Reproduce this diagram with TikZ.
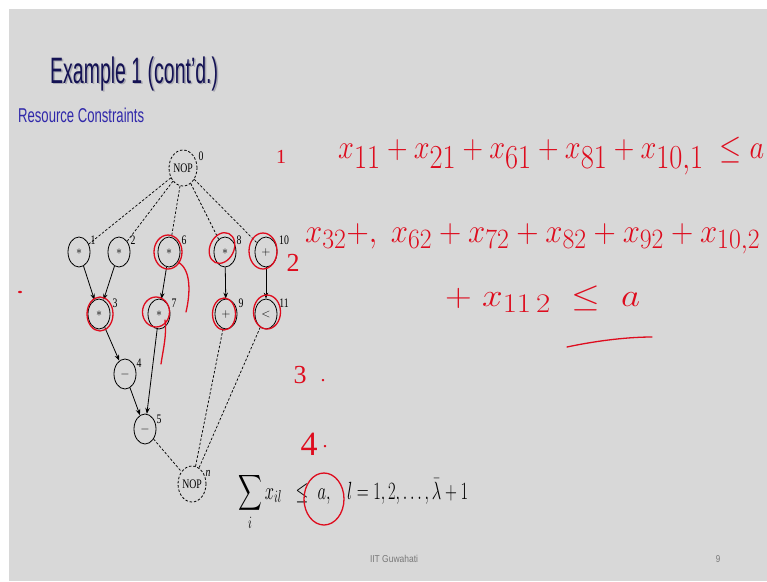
\documentclass[tikz,border=0pt]{standalone}
\usepackage{amsmath}
\usepackage{fontspec}
\usepackage{graphicx}
\usetikzlibrary{shapes.geometric,arrows.meta}
\setmainfont{Liberation Serif}
\newfontfamily\sansf{Liberation Sans}
\definecolor{bg}{RGB}{216,216,216}
\definecolor{titlec}{RGB}{20,18,84}
\definecolor{shadowc}{RGB}{170,170,178}
\definecolor{subc}{RGB}{48,40,170}
\definecolor{pen}{RGB}{222,12,30}
\definecolor{foot}{RGB}{120,120,120}
\newcommand{\fitw}[2]{\resizebox{#1}{\height}{#2}}
\newcommand{\fitwh}[3]{\resizebox{#1}{#2\height}{#3}}
\newcommand{\nsq}[1]{\scalebox{0.75}[1]{#1}}
\newcommand{\titletext}{\fitwh{168pt}{1.05}{\sansf\fontsize{35}{35}\selectfont Example 1 (cont’d.)}}
\tikzset{
  opnode/.style={ellipse, draw=black, line width=0.8pt, minimum width=22pt, minimum height=30pt, inner sep=0pt, font=\fontsize{12}{12}\selectfont},
  nopnode/.style={ellipse, draw=black, dashed, dash pattern=on 2.5pt off 1.8pt, line width=0.8pt, minimum width=28pt, minimum height=36pt, inner sep=0pt, font=\fontsize{13}{13}\selectfont},
  numlbl/.style={inner sep=0pt, font=\fontsize{13}{13}\selectfont},
  arr/.style={line width=0.8pt, -{Stealth[length=6pt,width=4.5pt]}},
  dsh/.style={line width=0.7pt, dash pattern=on 2.5pt off 1.8pt},
  penline/.style={draw=pen, line width=1.3pt, line cap=round, line join=round},
  pentext/.style={text=pen, inner sep=0pt},
}
\begin{document}
\begin{tikzpicture}[x=1pt,y=-1pt]
\useasboundingbox (0,0) rectangle (767,581);
\fill[white] (0,0) rectangle (767,581);
\fill[bg] (9,9) rectangle (767,581);

% titles
\node[anchor=base west, inner sep=0pt, text=shadowc] (titleshadow) at (51.5,84.5) {\titletext};
\node[anchor=base west, inner sep=0pt, text=titlec] (title) at (50,83) {\titletext};
\node[anchor=base west, inner sep=0pt, text=subc] (sub) at (18,122)
  {\fitw{126pt}{\sansf\fontsize{20}{20}\selectfont Resource Constraints}};

% graph nodes
\node[nopnode] (n0) at (183,168) {\nsq{NOP}};
\node[opnode] (n1) at (79,252) {$\ast$};
\node[opnode] (n2) at (119,252) {$\ast$};
\node[opnode] (n6) at (169,252) {$\ast$};
\node[opnode] (n8) at (225,252) {$\ast$};
\node[opnode] (n10) at (266,252) {$+$};
\node[opnode] (n3) at (99,314) {$\ast$};
\node[opnode] (n7) at (159,314) {$\ast$};
\node[opnode] (n9) at (226,314) {$+$};
\node[opnode] (n11) at (266,314) {$<$};
\node[opnode] (n4) at (125,374) {$-$};
\node[opnode] (n5) at (145,429) {$-$};
\node[nopnode] (nn) at (192,484) {\nsq{NOP}};

% number labels
\node[numlbl] (l0) at (201,156) {\nsq{0}};
\node[numlbl] (l1) at (93,240) {\nsq{1}};
\node[numlbl] (l2) at (133,240) {\nsq{2}};
\node[numlbl] (l6) at (184,240) {\nsq{6}};
\node[numlbl] (l8) at (239,240) {\nsq{8}};
\node[numlbl] (l10) at (284,240) {\nsq{10}};
\node[numlbl] (l3) at (115,303) {\nsq{3}};
\node[numlbl] (l7) at (174,303) {\nsq{7}};
\node[numlbl] (l9) at (241,303) {\nsq{9}};
\node[numlbl] (l11) at (284,303) {\nsq{11}};
\node[numlbl] (l4) at (139,363) {\nsq{4}};
\node[numlbl] (l5) at (159,419) {\nsq{5}};
\node[numlbl] (ln) at (208,473) {\nsq{\itshape n}};

% edges
\foreach \t in {n1,n2,n6,n8,n10} \draw[dsh] (n0) -- (\t);
\draw[arr] (n1) -- (n3);
\draw[arr] (n2) -- (n3);
\draw[arr] (n6) -- (n7);
\draw[arr] (n8) -- (n9);
\draw[arr] (n10) -- (n11);
\draw[arr] (n3) -- (n4);
\draw[arr] (n4) -- (n5);
\draw[arr] (n7) -- (n5);
\draw[dsh] (n5) -- (nn);
\draw[dsh] (n9) -- (nn);
\draw[dsh] (n11) -- (nn);

% formula
\node[anchor=base west, inner sep=0pt] (formula) at (238,499)
  {\fitw{230pt}{\fontsize{23}{23}\selectfont $\displaystyle\sum_i x_{il}\;\;\le\; a,\;\;\; l=1,2,\ldots,\bar\lambda+1$}};

% footer
\node[inner sep=0pt, text=foot] (footl) at (394,559) {\fitw{48pt}{\sansf\fontsize{10}{10}\selectfont IIT Guwahati}};
\node[inner sep=0pt, text=foot] (footr) at (718,559) {\scalebox{0.8}[1]{\sansf\fontsize{10}{10}\selectfont 9}};

% red annotations: circles on nodes
\draw[penline] (100,314) ellipse [x radius=13, y radius=17];
\draw[penline] (168,252) ellipse [x radius=14, y radius=17];
\draw[penline] (156,312) ellipse [x radius=13.5, y radius=15];
\draw[penline] (222,248) ellipse [x radius=12, y radius=16, rotate=-25];
\draw[penline] (263,251) ellipse [x radius=14, y radius=18];
\draw[penline] (224,314) ellipse [x radius=11.5, y radius=16];
\draw[penline] (267,312) ellipse [x radius=13.5, y radius=17];
\draw[penline] (178,262) .. controls (192,270) and (190,295) .. (186,312);
\draw[penline] (165,320) .. controls (167,335) and (163,350) .. (161,364);
\fill[pen] (20,292) ellipse [x radius=2, y radius=1.2];
\draw[penline] (324,499) ellipse [x radius=20, y radius=26];

% red handwriting
\node[pentext] (h1) at (281,157) {\fontsize{20}{20}\selectfont 1};
\node[pentext, anchor=base west] (row1) at (338,158)
  {\fitwh{426pt}{1.35}{\fontsize{34}{34}\selectfont $x_{11}+x_{21}+x_{61}+x_{81}+x_{10,1}\;\le a$}};
\node[pentext] (h2) at (293,263) {\fontsize{26}{26}\selectfont 2};
\node[pentext, anchor=base west] (row2) at (305,242)
  {\fitwh{455pt}{1.35}{\fontsize{30}{30}\selectfont $x_{32}+,\; x_{62}+x_{72}+x_{82}+x_{92}+x_{10,2}$}};
\node[pentext, anchor=base west] (row3) at (445,306)
  {\fitwh{195pt}{1.3}{\fontsize{32}{32}\selectfont $+\;x_{11\,2}\;\le\;a$}};
\draw[penline] (567,347) .. controls (600,340) and (630,337) .. (652,337);
\node[pentext] (h3) at (300,375) {\fontsize{26}{26}\selectfont 3};
\node[pentext] (h3d) at (323,381) {\fontsize{20}{20}\selectfont .};
\node[pentext] (h4) at (309,444) {\fontsize{34}{34}\selectfont 4};
\node[pentext] (h4d) at (325,447) {\fontsize{20}{20}\selectfont .};
\end{tikzpicture}
\end{document}
